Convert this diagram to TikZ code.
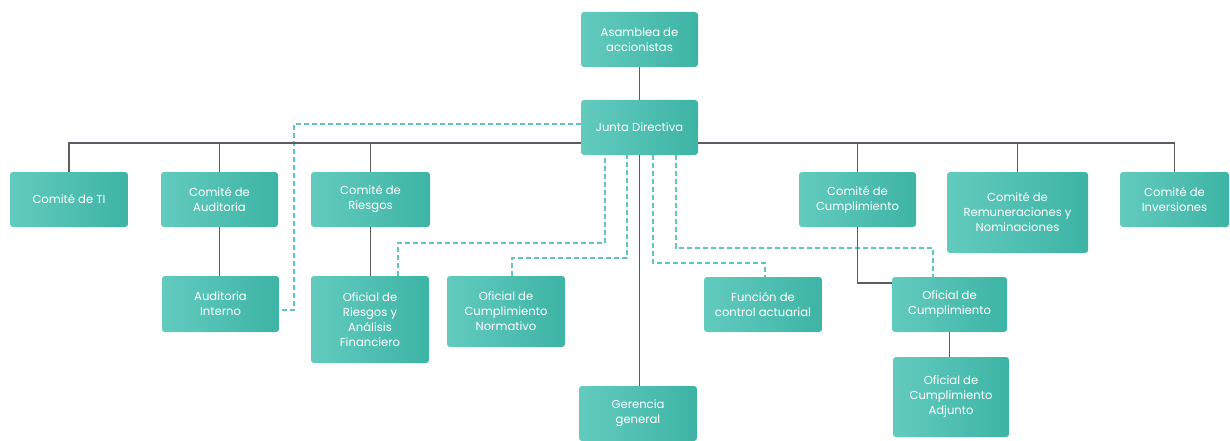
\documentclass[tikz,border=0pt]{standalone}
\usepackage{fontspec}
\setmainfont{Poppins}
\usetikzlibrary{calc}
\definecolor{boxL}{HTML}{62CBBE}
\definecolor{boxR}{HTML}{3DB4A4}
\definecolor{lineC}{HTML}{5C5C64}
\definecolor{dashC}{HTML}{62C6BA}
\tikzset{
  orgbox/.style={rectangle, rounded corners=3pt, left color=boxL, right color=boxR,
    draw=none, text=white, align=center, inner sep=2pt,
    font=\fontsize{11.6}{15}\selectfont},
  solidline/.style={draw=lineC, line width=1.8pt},
  dashline/.style={draw=dashC, line width=1.4pt, dash pattern=on 5pt off 3pt}
}
\begin{document}
\begin{tikzpicture}[x=1pt,y=-1pt]
\useasboundingbox (0,0) rectangle (1230,441);
% nodes
\node[orgbox, minimum width=117pt, minimum height=55pt] (asam) at (639.5,39.5) {Asamblea de\\accionistas};
\node[orgbox, minimum width=117pt, minimum height=55pt] (junta) at (639.5,127.5) {Junta Directiva};
\node[orgbox, minimum width=118pt, minimum height=55pt] (ti) at (69,199.5) {Comité de TI};
\node[orgbox, minimum width=117pt, minimum height=55pt] (caud) at (219.5,199.5) {Comité de\\Auditoria};
\node[orgbox, minimum width=119pt, minimum height=55pt] (crie) at (370.5,199.5) {Comité de\\Riesgos};
\node[orgbox, minimum width=117pt, minimum height=55pt] (ccum) at (857.5,199.5) {Comité de\\Cumplimiento};
\node[orgbox, minimum width=141pt, minimum height=81pt] (crem) at (1017.5,212.5) {Comité de\\Remuneraciones y\\Nominaciones};
\node[orgbox, minimum width=109pt, minimum height=55pt] (cinv) at (1174.5,199.5) {Comité de\\Inversiones};
\node[orgbox, minimum width=117pt, minimum height=56pt] (aint) at (220.5,304) {Auditoria\\Interno};
\node[orgbox, minimum width=118pt, minimum height=87pt] (orie) at (370,319.5) {Oficial de\\Riesgos y\\Análisis\\Financiero};
\node[orgbox, minimum width=118pt, minimum height=71pt] (ocn) at (506,311.5) {Oficial de\\Cumplimiento\\Normativo};
\node[orgbox, minimum width=118pt, minimum height=55pt] (gg) at (638,413.5) {Gerencia\\general};
\node[orgbox, minimum width=118pt, minimum height=55pt] (fca) at (763,304.5) {Función de\\control actuarial};
\node[orgbox, minimum width=115pt, minimum height=55pt] (ocum) at (949.5,304.5) {Oficial de\\Cumplimiento};
\node[orgbox, minimum width=116pt, minimum height=80pt] (ocad) at (951,397) {Oficial de\\Cumplimiento\\Adjunto};
% helper coordinates
\coordinate (busy) at (0,143);
\coordinate (dA) at (294,200);
\coordinate (k1) at (398,243);
\coordinate (k2) at (605,243);
\coordinate (k3) at (512,258);
\coordinate (k4) at (627,258);
\coordinate (k5) at (653,263);
\coordinate (k6) at (765,263);
\coordinate (k7) at (676,248);
\coordinate (k8) at (933,248);
% dashed connectors (behind solid)
\draw[dashline] ([yshift=3.5pt]junta.west) -| (dA) |- ([yshift=-6pt]aint.east);
\draw[dashline] (orie.north -| k1) -- (k1) -- (k2) -- (k2 |- junta.south);
\draw[dashline] (ocn.north -| k3) -- (k3) -- (k4) -- (k4 |- junta.south);
\draw[dashline] (junta.south -| k5) -- (k5) -- (k6) -- (k6 |- fca.north);
\draw[dashline] (junta.south -| k7) -- (k7) -- (k8) -- (k8 |- ocum.north);
% solid connectors
\draw[solidline] (asam.south) -- (junta.north);
\draw[solidline] (ti.north) |- (junta.west |- busy);
\draw[solidline] (cinv.north) |- (junta.east |- busy);
\draw[solidline] (caud.north) -- (caud.north |- busy);
\draw[solidline] (crie.north) -- (crie.north |- busy);
\draw[solidline] (ccum.north) -- (ccum.north |- busy);
\draw[solidline] (crem.north) -- (crem.north |- busy);
\draw[solidline] (caud.south) -- (caud.south |- aint.north);
\draw[solidline] (crie.south) -- (crie.south |- orie.north);
\draw[solidline] (junta.south) -- (junta.south |- gg.north);
\draw[solidline] (ccum.south) |- ([yshift=-6pt]ocum.north west);
\draw[solidline] (ocum.south) -- (ocum.south |- ocad.north);
\end{tikzpicture}
\end{document}
